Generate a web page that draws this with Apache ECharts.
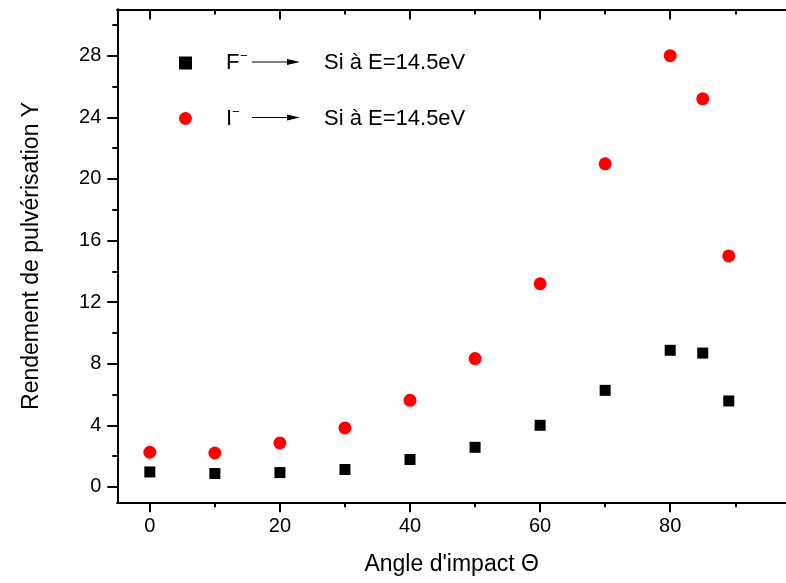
<!DOCTYPE html>
<html>
<head>
<meta charset="utf-8">
<script src="https://cdn.jsdelivr.net/npm/echarts@6/dist/echarts.min.js"></script>
<style>
html,body{margin:0;padding:0;background:#fff;}
#chart{width:786px;height:583px;}
</style>
</head>
<body>
<div id="chart"></div>
<script>
const angles = [0, 10, 20, 30, 40, 50, 60, 70, 80, 85, 89];
const yieldF = [0.97, 0.87, 0.93, 1.13, 1.78, 2.57, 4.0, 6.27, 8.87, 8.69, 5.58];
const yieldI = [2.25, 2.2, 2.85, 3.83, 5.62, 8.33, 13.19, 20.98, 28.0, 25.2, 15.0];
const xMajorTicks = [0, 20, 40, 60, 80];
const xMinorTicks = [10, 30, 50, 70, 90];
const yMajorTicks = [0, 4, 8, 12, 16, 20, 24, 28];
const yMinorTicks = [2, 6, 10, 14, 18, 22, 26, 30];
const seriesNames = ['F', 'I'];
const legendTarget = 'Si à E=14.5eV';
const xTitle = "Angle d'impact Θ";
const yTitle = 'Rendement de pulvérisation Y';

const FONT = '"Liberation Sans", Arial, sans-serif';
const axisLine = {show: true, onZero: false, lineStyle: {color: '#000', width: 2}};
function xAx(pos, ticks, len, inside, labels, extra) {
  return Object.assign({
    type: 'value', gridIndex: 0, position: pos, min: -5, max: 97.8,
    axisLine: axisLine,
    axisTick: {show: true, customValues: ticks, length: len, inside: inside, lineStyle: {color: '#000', width: 2}},
    axisLabel: labels ? {show: true, customValues: ticks, fontSize: 20, fontFamily: FONT, color: '#000', margin: 14} : {show: false},
    splitLine: {show: false}
  }, extra || {});
}
function yAx(pos, ticks, len, inside, labels, extra) {
  return Object.assign({
    type: 'value', gridIndex: 0, position: pos, min: -1, max: 31,
    axisLine: axisLine,
    axisTick: {show: true, customValues: ticks, length: len, inside: inside, lineStyle: {color: '#000', width: 2}},
    axisLabel: labels ? {show: true, customValues: ticks, fontSize: 20, fontFamily: FONT, color: '#000', margin: 16} : {show: false},
    splitLine: {show: false}
  }, extra || {});
}

const chart = echarts.init(document.getElementById('chart'), null, {renderer: 'canvas'});
const arrowY1 = 62, arrowY2 = 117.5;
function arrow(y) {
  return [
    {type: 'line', shape: {x1: 252, y1: y, x2: 292, y2: y}, style: {stroke: '#000', lineWidth: 1}},
    {type: 'polygon', shape: {points: [[287, y - 3], [300, y], [287, y + 3]]}, style: {fill: '#000'}}
  ];
}
chart.setOption({
  animation: false,
  backgroundColor: '#fff',
  grid: {left: 117.3, right: 0, top: 9.5, bottom: 80.7, containLabel: false},
  xAxis: [
    xAx('bottom', xMajorTicks, 10, false, true, {
      name: xTitle, nameLocation: 'middle', nameGap: 51,
      nameTextStyle: {fontSize: 23, fontFamily: FONT, color: '#000'}
    }),
    xAx('bottom', xMinorTicks, 5, false, false),
    xAx('top', xMajorTicks, 10, true, false),
    xAx('top', xMinorTicks, 5, true, false)
  ],
  yAxis: [
    yAx('left', yMajorTicks, 10, false, true, {
      name: yTitle, nameLocation: 'middle', nameGap: 74, nameRotate: 90,
      nameTextStyle: {fontSize: 23, fontFamily: FONT, color: '#000'}
    }),
    yAx('left', yMinorTicks, 5, false, false)
  ],
  legend: {
    show: true, orient: 'vertical', left: 179, top: 50, padding: 0,
    itemWidth: 13, itemHeight: 13, itemGap: 29.5,
    data: [{name: seriesNames[0], icon: 'rect'}, {name: seriesNames[1], icon: 'circle'}],
    formatter: function (name) {
      const n = name === 'F' ? 'nF' : 'nI';
      const g = name === 'F' ? 'gF' : 'gI';
      return '{sp|}{' + n + '|' + name + '}{sup|−}{' + g + '|}{t|' + legendTarget + '}';
    },
    textStyle: {
      fontFamily: FONT, fontSize: 22, color: '#000', lineHeight: 26,
      rich: {
        sp: {width: 29},
        nF: {fontSize: 22, fontFamily: FONT, color: '#000', width: 14, lineHeight: 26},
        nI: {fontSize: 22, fontFamily: FONT, color: '#000', width: 6, lineHeight: 26},
        sup: {fontSize: 13, fontFamily: FONT, color: '#000', width: 10, lineHeight: 14, verticalAlign: 'top'},
        gF: {width: 74},
        gI: {width: 82},
        t: {fontSize: 22, fontFamily: FONT, color: '#000', lineHeight: 26}
      }
    }
  },
  graphic: arrow(arrowY1).concat(arrow(arrowY2)),
  series: [
    {
      name: seriesNames[0], type: 'scatter', xAxisIndex: 0, yAxisIndex: 0,
      symbol: 'rect', symbolSize: 11, itemStyle: {color: '#000', opacity: 1},
      data: angles.map((a, i) => [a, yieldF[i]])
    },
    {
      name: seriesNames[1], type: 'scatter', xAxisIndex: 0, yAxisIndex: 0,
      symbol: 'circle', symbolSize: 13, itemStyle: {color: '#ff0000', opacity: 1},
      data: angles.map((a, i) => [a, yieldI[i]])
    }
  ]
});
</script>
</body>
</html>
